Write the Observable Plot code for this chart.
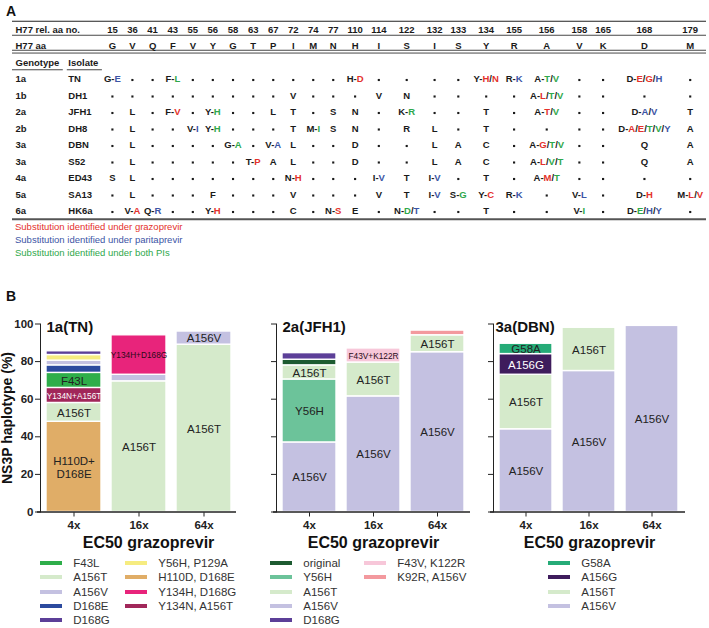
<!DOCTYPE html>
<html><head><meta charset="utf-8">
<script src="https://cdn.jsdelivr.net/npm/d3@7"></script>
<script src="https://cdn.jsdelivr.net/npm/@observablehq/plot@0.6"></script>
<style>
html,body{margin:0;padding:0;background:#fff;}
#root{position:relative;width:709px;height:628px;overflow:hidden;font-family:'Liberation Sans',Arial,sans-serif;color:#222;}
#root svg text{font-family:'Liberation Sans',Arial,sans-serif;}
.plbl{position:absolute;font-weight:bold;font-size:14px;line-height:14px;color:#111;}
.pb [aria-label^="y-axis"] text,.pb [aria-label^="x-axis"] text{font-weight:bold;font-size:11.5px;fill:#222;}
.legend{position:absolute;display:grid;grid-auto-flow:column;grid-template-rows:repeat(5,14.3px);font-size:11.5px;color:#333;}
.legend .item{display:flex;align-items:center;white-space:nowrap;}
.legend .sw{width:21.7px;height:4px;margin-right:11.6px;flex:none;}
.foot{position:absolute;left:15px;top:220px;font-size:9.5px;line-height:13px;}
</style></head>
<body><div id="root"></div>
<script>
// ---------------- Panel A data ----------------
const positions = ["15","36","41","43","55","56","58","63","67","72","74","77","110","114","122","132","133","134","155","156","158","165","168","179"];
const h77aa = ["G","V","Q","F","V","Y","G","T","P","I","M","N","H","I","S","I","S","Y","R","A","V","K","D","M"];
const genotypes = ["1a","1b","2a","2b","3a","3a","4a","5a","6a"];
const isolates = ["TN","DH1","JFH1","DH8","DBN","S52","ED43","SA13","HK6a"];
// {r}=grazoprevir, {b}=paritaprevir, {g}=both PIs ; "." = identical to H77
const rowTN   = "G-{b}E . . F-{g}L . . . . . . . . H-{r}D . . . . Y-{r}H/{r}N R-{b}K A-{g}T/{g}V . . D-{r}E/{r}G/{b}H .".split(" ");
const rowDH1  = ". . . . . . . . . V . . . V N . . . . A-{r}L/{g}T/{g}V . . . .".split(" ");
const rowJFH1 = ". L . F-{r}V . Y-{g}H . . L T . S N . K-{g}R . . T . A-{r}T/{g}V . . D-{b}A/{b}V T".split(" ");
const rowDH8  = ". L . . V-{b}I Y-{g}H . . . T M-{g}I S N . R L . T . . . . D-{r}A/{r}E/{g}T/{g}V/{b}Y A".split(" ");
const rowDBN  = ". L . . . . G-{g}A . V-{b}A L . . D . . L A C . A-{r}G/{g}T/{g}V . . Q A".split(" ");
const rowS52  = ". L . . . . . T-{r}P A L . . D . . L A C . A-{r}L/{g}V/{g}T . . Q A".split(" ");
const rowED43 = "S L . . . . . . . N-{r}H . . . I-{b}V T I-{b}V . T . A-{r}M/{g}T . . . .".split(" ");
const rowSA13 = ". L . . . F . . . V . . . V T I-{b}V S-{g}G Y-{r}C R-{b}K . V-{b}L . D-{r}H M-{r}L/{r}V".split(" ");
const rowHK6a = ". V-{r}A Q-{b}R . . Y-{r}H . . . C . N-{r}S E . N-{g}D/{b}T . . T . . V-{g}I . D-{g}E/{b}H/{b}Y .".split(" ");
const tableRows = [rowTN,rowDH1,rowJFH1,rowDH8,rowDBN,rowS52,rowED43,rowSA13,rowHK6a];
const footnotes = ["Substitution identified under grazoprevir","Substitution identified under paritaprevir","Substitution identified under both PIs"];
const footnoteKeys = ["r","b","g"];
const subColors = {r:"#E4312B", b:"#3C55A5", g:"#2FA84B"};

// ---------------- Panel B data ----------------
const doses = ["4x","16x","64x"];
// 1a(TN)
const tnStack   = ["H110D, D168E","A156T","Y134N, A156T","F43L","D168E","A156V","Y56H, P129A","D168G","Y134H, D168G"];
const tnBarText = ["H110D+\nD168E","A156T","Y134N+A156T","F43L","D168E","A156V","Y56H+P129A","D168G","Y134H+D168G"];
const tn4x  = [48, 10, 8, 8, 4, 2.5, 3, 2, 0];
const tn16x = [0, 69.5, 0, 0, 0, 3.5, 0, 0, 21];
const tn64x = [0, 89, 0, 0, 0, 7, 0, 0, 0];
const tnLegend = ["F43L","A156T","A156V","D168E","D168G","Y56H, P129A","H110D, D168E","Y134H, D168G","Y134N, A156T"];
const tnColors = ["#2EAE4A","#D5EACB","#C4C1E1","#2C4A9E","#5C3F98","#F6EC80","#E0AD67","#E8247B","#A1275A"];
// 2a(JFH1)
const jfhStack   = ["A156V","Y56H","A156T","original","D168G","F43V, K122R","K92R, A156V"];
const jfhBarText = ["A156V","Y56H","A156T","original","D168G","F43V+K122R","K92R+A156V"];
const jfh4x  = [37, 33.5, 7.5, 3, 3.5, 0, 0];
const jfh16x = [61.5, 0, 18, 0, 0, 7.5, 0];
const jfh64x = [85, 0, 9, 0, 0, 0, 2.5];
const jfhLegend = ["original","Y56H","A156T","A156V","D168G","F43V, K122R","K92R, A156V"];
const jfhColors = ["#1D5B31","#6CC39A","#D5EACB","#C4C1E1","#5C3F98","#F7C7D9","#F3999E"];
// 3a(DBN)
const dbnStack   = ["A156V","A156T","A156G","G58A"];
const dbnBarText = ["A156V","A156T","A156G","G58A"];
const dbn4x  = [44, 29, 11, 5.5];
const dbn16x = [75, 23, 0, 0];
const dbn64x = [99, 0, 0, 0];
const dbnLegend = ["G58A","A156G","A156T","A156V"];
const dbnColors = ["#25AB77","#3E1C5C","#D5EACB","#C4C1E1"];

const FONT = "'Liberation Sans', Arial, sans-serif";
const root = document.getElementById("root");
function place(el, left, top){ el.style.position="absolute"; el.style.left=left+"px"; el.style.top=top+"px"; root.appendChild(el); return el; }
function div(cls, html){ const d=document.createElement("div"); if(cls) d.className=cls; if(html!=null) d.innerHTML=html; return d; }

// ================= PANEL A (table) =================
tableRows.forEach((r,i)=>{ if(r.length!==positions.length) throw new Error("row "+isolates[i]+" has "+r.length); });
const ctx = document.createElement("canvas").getContext("2d");
ctx.font = "bold 9.5px " + FONT;
const strip = s => s.replace(/\{[rgb]\}/g,"");
const tw = s => ctx.measureText(strip(s)).width;
const tableLeft = 12, tableRight = 706;
const genoX = tableLeft + 3;
const isoX = genoX + tw("Genotype") + 9;
const dataLeft = isoX + d3.max(["Isolate", ...isolates], tw) + 4;
const baseW = positions.map((p,j)=>Math.max(20, d3.max([p, h77aa[j], ...tableRows.map(r=>r[j])], tw) + 3));
const wideCols = positions.map(p => p.length > 2);
const leftover = tableRight - dataLeft - d3.sum(baseW);
const share = leftover / wideCols.filter(Boolean).length;
const colW = baseW.map((w,j)=> w + (wideCols[j] ? share : 0));
const colX = []; { let cx = dataLeft; colW.forEach(w=>{ colX.push(cx + w/2); cx += w; }); }

const headerCells = positions.map((p,j)=>({x:colX[j], y:0, s:p})).concat(h77aa.map((a,j)=>({x:colX[j], y:1, s:a})));
const leftLabels = [
  {x:genoX, y:0, s:"H77 rel. aa no."}, {x:genoX, y:1, s:"H77 aa"},
  {x:genoX, y:2, s:"Genotype"}, {x:isoX, y:2, s:"Isolate"},
  ...genotypes.map((g,i)=>({x:genoX, y:3+i, s:g})),
  ...isolates.map((g,i)=>({x:isoX, y:3+i, s:g}))
];
const cells = [], dots = [];
tableRows.forEach((r,i)=>r.forEach((s,j)=>{ (s==="." ? dots : cells).push({x:colX[j], y:3+i, s}); }));

const txt = {fontWeight:"bold", fontSize:9.5, fill:"#1a1a1a", lineAnchor:"middle"};
const svgA = Plot.plot({
  width:709, height:222, margin:0,
  style:{background:"transparent", fontFamily:FONT, color:"#1a1a1a", overflow:"visible"},
  x:{type:"identity", axis:null},
  y:{domain:[-0.5,11.5], range:[20.75,218.75], axis:null},
  marks:[
    Plot.ruleY([-0.5], {x1:tableLeft, x2:tableRight, stroke:"#222", strokeWidth:1.2}),
    Plot.ruleY([0.5], {x1:tableLeft, x2:tableRight, stroke:"#333", strokeWidth:0.9, dy:-2.5}),
    Plot.ruleY([1.5], {x1:tableLeft, x2:tableRight, stroke:"#333", strokeWidth:0.9, dy:-4}),
    Plot.ruleY([1.5], {x1:tableLeft, x2:tableRight, stroke:"#333", strokeWidth:0.9, dy:-1.2}),
    Plot.ruleY([2.5], {x1:tableLeft, x2:isoX-5, stroke:"#333", strokeWidth:0.9, dy:-1}),
    Plot.ruleY([2.5], {x1:isoX-1, x2:dataLeft, stroke:"#333", strokeWidth:0.9, dy:-1}),
    Plot.ruleY([11.5], {x1:tableLeft, x2:tableRight, stroke:"#555", strokeWidth:2.2}),
    Plot.text(leftLabels, {x:"x", y:"y", text:"s", textAnchor:"start", ...txt}),
    Plot.text(headerCells, {x:"x", y:"y", text:"s", textAnchor:"middle", ...txt}),
    Plot.text(cells, {x:"x", y:"y", text:"s", textAnchor:"middle", ...txt}),
    Plot.dot(dots, {x:"x", y:"y", r:1.2, symbol:"square", fill:"#1a1a1a", dy:1})
  ]
});
// colour the substituted residues (cells carry {r}/{b}/{g} markers)
d3.select(svgA).selectAll("text").each(function(){
  const src = this.textContent;
  if(!src.includes("{")) return;
  const sel = d3.select(this); sel.text("");
  const re = /\{([rgb])\}(.)|([^{]+)/g; let m;
  while((m = re.exec(src))){
    if(m[1]) sel.append("tspan").attr("fill", subColors[m[1]]).text(m[2]);
    else sel.append("tspan").text(m[3]);
  }
});
place(svgA, 0, 0);
place(div("plbl","A"), 6, 4);
const foot = div("foot");
footnotes.forEach((f,i)=>{ const l=document.createElement("div"); l.textContent=f; l.style.color=subColors[footnoteKeys[i]]; foot.appendChild(l); });
root.appendChild(foot);

// ================= PANEL B (stacked bars) =================
place(div("plbl","B"), 6, 289);
const panelsB = [
  {title:"1a(TN)", stack:tnStack, text:tnBarText, series:[tn4x,tn16x,tn64x], legend:tnLegend, colors:tnColors,
   left:0, width:240, yLabels:true, titleDx:6, xLabelDx:10, legendLeft:40, legendCols:"85px auto"},
  {title:"2a(JFH1)", stack:jfhStack, text:jfhBarText, series:[jfh4x,jfh16x,jfh64x], legend:jfhLegend, colors:jfhColors,
   left:236, width:238, yLabels:false, titleDx:6, xLabelDx:0, legendLeft:270, legendCols:"94px auto"},
  {title:"3a(DBN)", stack:dbnStack, text:dbnBarText, series:[dbn4x,dbn16x,dbn64x], legend:dbnLegend, colors:dbnColors,
   left:453, width:236, yLabels:false, titleDx:2, xLabelDx:0, legendLeft:548, legendCols:"auto"}
];
const topB = 300;
panelsB.forEach(p=>{
  const colorOf = new Map(p.legend.map((v,i)=>[v,p.colors[i]]));
  const segs = [];
  doses.forEach((dose,di)=>{
    let acc = 0;
    p.stack.forEach((v,vi)=>{
      const val = p.series[di][vi];
      if(!val) return;
      segs.push({dose, variant:v, text:p.text[vi], y1:acc, y2:acc+val, mid:acc+val/2, value:val});
      acc += val;
    });
  });
  const labelled = segs.filter(d=>d.value>=5);
  const isSmall = d => d.text.includes("+") && !d.text.includes("\n");
  const isDark = d => d3.lab(colorOf.get(d.variant)).l < 45;
  const grp = (small,dark) => labelled.filter(d=>isSmall(d)===small && isDark(d)===dark);
  const tmark = (data,size,fill) => Plot.text(data, {x:"dose", y:"mid", text:"text", fontSize:size, fill, lineHeight:1.15});
  const marks = [
    Plot.barY(segs, {x:"dose", y1:"y1", y2:"y2", fill:"variant", stroke:"white", strokeWidth:1.4}),
    tmark(grp(false,false), 11.5, "#222"),
    tmark(grp(false,true), 11.5, "#fff"),
    tmark(grp(true,false), 8.3, "#2a0a18"),
    tmark(grp(true,true), 8.3, "#fff"),
    Plot.ruleY([0], {stroke:"#222", strokeWidth:1.3, insetLeft:-3}),
    Plot.text([p.title], {frameAnchor:"top-left", textAnchor:"start", lineAnchor:"middle", dx:p.titleDx, dy:3.5, fontSize:15, fontWeight:"bold", fill:"#111"}),
    Plot.text(["EC50 grazoprevir"], {frameAnchor:"bottom", lineAnchor:"middle", dx:p.xLabelDx, dy:30.5, fontSize:16, fontWeight:"bold", fill:"#111"})
  ];
  if(p.yLabels) marks.push(Plot.text(["NS3P haplotype (%)"], {frameAnchor:"left", textAnchor:"middle", rotate:-90, lineAnchor:"middle", dx:-33, fontSize:14, fontWeight:"bold", fill:"#111"}));
  const svg = Plot.plot({
    width:p.width, height:256.5, marginLeft:40, marginRight:4, marginTop:23.5, marginBottom:45,
    style:{background:"transparent", fontFamily:FONT, color:"#222", overflow:"visible"},
    x:{domain:doses, paddingInner:0.155, paddingOuter:0.08, tickSize:5, tickPadding:4, label:null},
    y:{domain:[0,100], ticks:5, tickSize:5, tickPadding:2, label:null, line:true,
       tickFormat: p.yLabels ? (d=>String(d)) : (()=>"")},
    color:{domain:p.legend, range:p.colors},
    marks
  });
  const wrap = div("pb"); wrap.appendChild(svg);
  place(wrap, p.left, topB);
  // legend
  const lg = div("legend"); lg.style.gridTemplateColumns = p.legendCols;
  p.legend.forEach((v,i)=>{
    const it = div("item");
    const sw = div("sw"); sw.style.background = p.colors[i];
    const lb = document.createElement("span"); lb.textContent = v;
    it.appendChild(sw); it.appendChild(lb); lg.appendChild(it);
  });
  place(lg, p.legendLeft, 556);
});
</script>
</body></html>
